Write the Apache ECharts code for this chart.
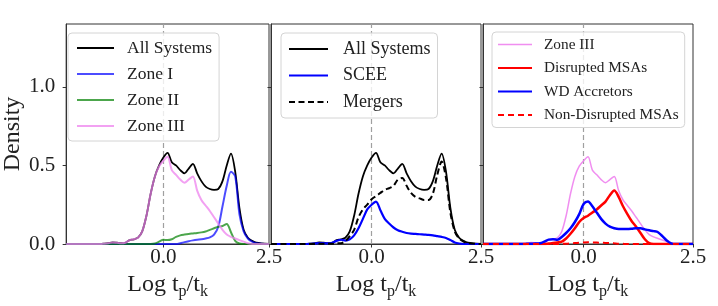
<!DOCTYPE html>
<html><head><meta charset="utf-8">
<script src="https://cdn.jsdelivr.net/npm/echarts@6/dist/echarts.min.js"></script>
<style>html,body{margin:0;padding:0;background:#fff}#c{width:718px;height:306px}</style>
</head><body><div id="c"></div>
<script>
// x grid (Log tp/tk)
const xs = [-2.3, -1.5, -1.4, -1.3, -1.2, -1.1, -1.0, -0.9, -0.8, -0.7, -0.6, -0.5, -0.4, -0.3, -0.2, -0.1, 0.0, 0.1, 0.2, 0.3, 0.4, 0.5, 0.6, 0.7, 0.8, 0.9, 1.0, 1.1, 1.2, 1.3, 1.4, 1.5, 1.6, 1.7, 1.8, 1.9, 2.0, 2.1, 2.2, 2.5];
// panel 1
const allSystems = [0, 0, 0.002, 0.005, 0.01, 0.008, 0.005, 0.008, 0.025, 0.03, 0.04, 0.08, 0.18, 0.32, 0.43, 0.50, 0.55, 0.58, 0.52, 0.50, 0.47, 0.45, 0.48, 0.51, 0.45, 0.40, 0.365, 0.35, 0.345, 0.35, 0.40, 0.50, 0.575, 0.46, 0.23, 0.09, 0.04, 0.02, 0.008, 0];
const zoneI = [0, 0, 0, 0, 0, 0, 0, 0, 0, 0, 0, 0, 0, 0, 0, 0, 0, 0, 0, 0, 0.005, 0.012, 0.018, 0.023, 0.027, 0.03, 0.035, 0.042, 0.06, 0.11, 0.24, 0.37, 0.46, 0.43, 0.19, 0.08, 0.035, 0.015, 0.005, 0];
const zoneII = [0, 0, 0, 0, 0, 0, 0, 0, 0, 0, 0, 0, 0, 0, 0.003, 0.015, 0.027, 0.025, 0.03, 0.045, 0.055, 0.06, 0.064, 0.067, 0.07, 0.074, 0.08, 0.09, 0.10, 0.11, 0.115, 0.128, 0.075, 0.02, 0.003, 0, 0, 0, 0, 0];
const zoneIII = [0, 0, 0.002, 0.005, 0.01, 0.008, 0.005, 0.008, 0.025, 0.03, 0.04, 0.08, 0.18, 0.32, 0.43, 0.495, 0.53, 0.555, 0.47, 0.44, 0.41, 0.39, 0.41, 0.43, 0.34, 0.28, 0.245, 0.21, 0.17, 0.13, 0.09, 0.06, 0.045, 0.035, 0.025, 0.015, 0.005, 0, 0, 0];
// panel 2
const scee = [0, 0, 0.001, 0.003, 0.005, 0.005, 0.004, 0.008, 0.02, 0.027, 0.022, 0.03, 0.055, 0.10, 0.16, 0.22, 0.25, 0.27, 0.215, 0.16, 0.13, 0.105, 0.088, 0.078, 0.07, 0.066, 0.064, 0.062, 0.06, 0.058, 0.055, 0.05, 0.045, 0.038, 0.025, 0.01, 0.003, 0, 0, 0];
const mergers = [0, 0, 0, 0, 0.002, 0.002, 0.001, 0.001, 0.005, 0.005, 0.018, 0.05, 0.09, 0.17, 0.22, 0.25, 0.285, 0.305, 0.325, 0.345, 0.355, 0.37, 0.41, 0.42, 0.37, 0.325, 0.30, 0.29, 0.28, 0.28, 0.32, 0.44, 0.525, 0.42, 0.20, 0.08, 0.035, 0.015, 0.005, 0];
// panel 3
const disruptedMSAs = [0, 0, 0, 0, 0, 0, 0, 0, 0.003, 0.006, 0.01, 0.015, 0.035, 0.065, 0.10, 0.14, 0.165, 0.18, 0.20, 0.22, 0.245, 0.27, 0.31, 0.34, 0.30, 0.24, 0.19, 0.145, 0.11, 0.07, 0.03, 0.005, 0, 0, 0, 0, 0, 0, 0, 0];
const wdAccretors = [0, 0, 0, 0.001, 0.002, 0.003, 0.005, 0.015, 0.028, 0.03, 0.027, 0.045, 0.07, 0.10, 0.14, 0.19, 0.255, 0.27, 0.24, 0.20, 0.16, 0.13, 0.11, 0.10, 0.095, 0.095, 0.095, 0.097, 0.10, 0.10, 0.093, 0.087, 0.082, 0.075, 0.05, 0.022, 0.004, 0, 0, 0];
const nonDisruptedMSAs = [0, 0, 0, 0, 0, 0, 0, 0, 0, 0, 0, 0.001, 0.002, 0.004, 0.006, 0.008, 0.01, 0.011, 0.01, 0.009, 0.008, 0.007, 0.006, 0.004, 0.002, 0.001, 0, 0, 0, 0, 0, 0, 0, 0, 0, 0, 0, 0, 0, 0];
// ticks
const xTicks = [0, 2.5];
const yTicks = [0, 0.5, 1.0];

const FONT = '"Liberation Serif", "DejaVu Serif", serif';
const INK = '#222';
const pts = arr => xs.map((x, i) => [x, arr[i]]);

const gridPos = [
  {left: 60, top: 24, width: 209, height: 220},
  {left: 271, top: 24, width: 210, height: 220},
  {left: 483, top: 24, width: 210, height: 220}
];

const grids = gridPos.map(g => Object.assign({show: true, borderColor: '#333', borderWidth: 1, backgroundColor: 'transparent', containLabel: false}, g));

const xAxes = [0, 1, 2].map(i => ({
  type: 'value', gridIndex: i, min: -2.3, max: 2.5,
  splitLine: {show: false},
  axisLine: {show: true, onZero: false, lineStyle: {color: '#333', width: 1}},
  axisTick: {show: true, customValues: xTicks, length: 3.5, lineStyle: {color: '#333'}},
  axisLabel: {customValues: xTicks, formatter: v => v.toFixed(1), fontFamily: FONT, fontSize: 21, color: INK, margin: 3, hideOverlap: false, showMinLabel: true, showMaxLabel: true},
  name: 'Log t{s|p}/t{s|k}', nameLocation: 'middle', nameGap: 25,
  nameTextStyle: {fontFamily: FONT, fontSize: 24, color: INK,
    rich: {s: {fontFamily: FONT, fontSize: 16, color: INK, padding: [14, 0, 0, 0]}}}
}));

const yAxes = [0, 1, 2].map(i => ({
  type: 'value', gridIndex: i, min: 0, max: 1.4,
  splitLine: {show: false},
  axisLine: {show: true, onZero: false, lineStyle: {color: '#333', width: 1}},
  axisTick: {show: true, customValues: yTicks, length: 3.5, lineStyle: {color: '#333'}},
  axisLabel: {show: i === 0, customValues: yTicks, formatter: v => v.toFixed(1), fontFamily: FONT, fontSize: 21, color: INK, margin: 11},
  name: i === 0 ? 'Density' : '', nameLocation: 'middle', nameGap: 40, nameRotate: 90,
  nameTextStyle: {fontFamily: FONT, fontSize: 24, color: INK}
}));

const vline = {
  silent: true, symbol: ['none', 'none'], z: 1, animation: false,
  label: {show: false},
  lineStyle: {color: '#a0a0a0', type: [5, 3], width: 1.2},
  emphasis: {disabled: true},
  data: [{xAxis: 0}]
};

function line(name, arr, gi, color, width, opts) {
  opts = opts || {};
  const s = {
    type: 'line', name: name, xAxisIndex: gi, yAxisIndex: gi,
    data: pts(arr), symbol: 'none', smooth: 0.3, animation: false,
    color: color,
    lineStyle: {color: color, width: width, opacity: opts.opacity == null ? 1 : opts.opacity, type: opts.dash || 'solid'},
    emphasis: {disabled: true}, z: opts.z || 2
  };
  if (opts.mark) s.markLine = vline;
  return s;
}

const series = [
  line('All Systems', allSystems, 0, '#000000', 1.8, {mark: true}),
  line('Zone I', zoneI, 0, '#0000ff', 2, {opacity: 0.7}),
  line('Zone II', zoneII, 0, '#008000', 2, {opacity: 0.7}),
  line('Zone III', zoneIII, 0, '#ee82ee', 2, {opacity: 0.75}),

  line('All Systems', allSystems, 1, '#000000', 1.8, {mark: true}),
  line('SCEE', scee, 1, '#0000ff', 2.2),
  line('Mergers', mergers, 1, '#000000', 2, {dash: [6, 3.5]}),

  line('Zone III', zoneIII, 2, '#ee82ee', 1.5, {mark: true, opacity: 0.9}),
  line('Disrupted MSAs', disruptedMSAs, 2, '#ff0000', 2.5),
  line('WD Accretors', wdAccretors, 2, '#0000ff', 2.5),
  line('Non-Disrupted MSAs', nonDisruptedMSAs, 2, '#ff0000', 2, {dash: [6, 4]})
];

function legend(data, left, top, fontSize, itemWidth, itemGap, textPad, padding) {
  return {
    data: data, orient: 'vertical', left: left, top: top,
    padding: padding, itemWidth: itemWidth, itemHeight: 14, itemGap: itemGap,
    backgroundColor: 'rgba(255,255,255,0.8)', borderColor: '#d4d4d4', borderWidth: 1, borderRadius: 4,
    itemStyle: {opacity: 0},
    selectedMode: false,
    textStyle: {fontFamily: FONT, fontSize: fontSize, color: INK, padding: [0, 0, 0, textPad]}
  };
}

const option = {
  animation: false,
  backgroundColor: '#ffffff',
  grid: grids,
  xAxis: xAxes,
  yAxis: yAxes,
  legend: [
    legend(['All Systems', 'Zone I', 'Zone II', 'Zone III'], 68, 33, 17.5, 37, 8, 8, [6, 7, 6, 8]),
    legend(['All Systems', 'SCEE', 'Mergers'], 281, 33, 18, 39, 8.5, 10, [7, 7, 7, 7]),
    legend([{name: 'Zone III', lineStyle: {width: 1.5, opacity: 0.9}}, 'Disrupted MSAs', 'WD Accretors', 'Non-Disrupted MSAs'], 492, 32, 15.3, 34, 8.5, 7, [5, 6, 5, 5])
  ],
  series: series
};

const chart = echarts.init(document.getElementById('c'), null, {renderer: 'canvas'});
chart.setOption(option);
</script>
</body></html>
